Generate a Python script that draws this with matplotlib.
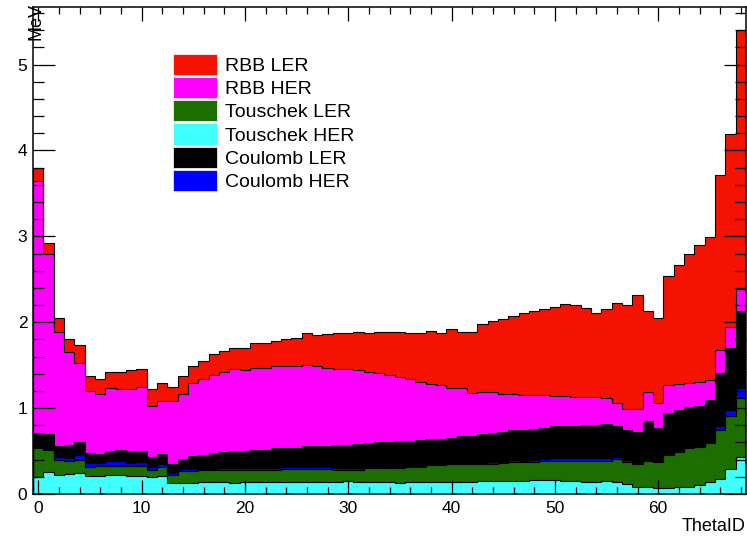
import numpy as np
import matplotlib
matplotlib.use("Agg")
import matplotlib.pyplot as plt
from matplotlib.patches import Patch
from matplotlib.ticker import MultipleLocator

plt.rcParams['font.family'] = ['Liberation Sans', 'DejaVu Sans']

# ThetaID bins 0..68, values in MeV
theta_id = np.arange(69)

touschek_her = [0.20, 0.26, 0.22, 0.23, 0.24, 0.21, 0.21, 0.22, 0.22, 0.21,
                0.21, 0.20, 0.21, 0.125, 0.13, 0.13, 0.14, 0.135, 0.135, 0.13,
                0.135, 0.135, 0.135, 0.135, 0.14, 0.14, 0.14, 0.14, 0.14, 0.143,
                0.15, 0.145, 0.145, 0.14, 0.14, 0.13, 0.135, 0.14, 0.143, 0.143,
                0.143, 0.143, 0.145, 0.15, 0.15, 0.15, 0.15, 0.15, 0.163, 0.163,
                0.163, 0.155, 0.15, 0.143, 0.14, 0.15, 0.14, 0.117, 0.085, 0.08,
                0.066, 0.066, 0.08, 0.085, 0.105, 0.143, 0.18, 0.29, 0.435]
touschek_ler = [0.33, 0.25, 0.18, 0.15, 0.16, 0.11, 0.12, 0.11, 0.11, 0.12,
                0.12, 0.08, 0.10, 0.095, 0.14, 0.14, 0.135, 0.14, 0.145, 0.15,
                0.145, 0.15, 0.15, 0.15, 0.15, 0.15, 0.155, 0.155, 0.155, 0.142,
                0.135, 0.14, 0.155, 0.16, 0.16, 0.17, 0.175, 0.17, 0.192, 0.192,
                0.202, 0.202, 0.205, 0.196, 0.20, 0.21, 0.22, 0.22, 0.207, 0.217,
                0.225, 0.233, 0.238, 0.245, 0.248, 0.238, 0.264, 0.259, 0.261, 0.31,
                0.31, 0.384, 0.41, 0.445, 0.44, 0.447, 0.565, 0.62, 0.68]
coulomb_her = [0.015, 0.015, 0.03, 0.04, 0.05, 0.045, 0.035, 0.05, 0.05, 0.03,
               0.04, 0.03, 0.04, 0.02, 0.02, 0.02, 0.02, 0.02, 0.02, 0.02,
               0.02, 0.015, 0.02, 0.02, 0.02, 0.02, 0.015, 0.015, 0.015, 0.015,
               0.015, 0.015, 0.02, 0.02, 0.02, 0.02, 0.015, 0.017, 0.02, 0.015,
               0.015, 0.015, 0.015, 0.019, 0.02, 0.016, 0.026, 0.02, 0.026, 0.024,
               0.035, 0.035, 0.032, 0.032, 0.03, 0.035, 0.031, 0.024, 0.011, 0.006,
               0.004, 0.016, 0.015, 0.015, 0.015, 0.02, 0.045, 0.07, 0.115]
coulomb_ler = [0.17, 0.175, 0.13, 0.15, 0.15, 0.115, 0.105, 0.12, 0.13, 0.14,
               0.13, 0.12, 0.11, 0.11, 0.12, 0.15, 0.16, 0.18, 0.185, 0.20,
               0.195, 0.21, 0.21, 0.225, 0.22, 0.23, 0.25, 0.25, 0.25, 0.265,
               0.275, 0.285, 0.27, 0.285, 0.29, 0.295, 0.295, 0.303, 0.28, 0.29,
               0.29, 0.31, 0.305, 0.33, 0.345, 0.35, 0.344, 0.356, 0.361, 0.369,
               0.367, 0.372, 0.375, 0.38, 0.39, 0.393, 0.36, 0.346, 0.363, 0.459,
               0.385, 0.474, 0.475, 0.465, 0.465, 0.48, 0.62, 0.72, 0.90]
rbb_her = [2.925, 2.09, 1.33, 1.08, 0.93, 0.72, 0.70, 0.73, 0.71, 0.72,
           0.74, 0.60, 0.62, 0.73, 0.76, 0.85, 0.885, 0.915, 0.94, 0.955,
           0.95, 0.955, 0.955, 0.955, 0.955, 0.95, 0.94, 0.925, 0.91, 0.895,
           0.885, 0.86, 0.835, 0.805, 0.77, 0.745, 0.72, 0.675, 0.645, 0.63,
           0.58, 0.56, 0.51, 0.495, 0.47, 0.444, 0.43, 0.409, 0.393, 0.377,
           0.35, 0.345, 0.34, 0.335, 0.319, 0.304, 0.262, 0.244, 0.27, 0.33,
           0.292, 0.33, 0.30, 0.28, 0.275, 0.24, 0.265, 0.24, 0.255]
rbb_ler = [0.15, 0.13, 0.16, 0.16, 0.20, 0.17, 0.17, 0.19, 0.20, 0.22,
           0.22, 0.19, 0.21, 0.16, 0.205, 0.20, 0.21, 0.24, 0.245, 0.25,
           0.26, 0.29, 0.285, 0.295, 0.325, 0.33, 0.37, 0.365, 0.39, 0.42,
           0.42, 0.445, 0.455, 0.48, 0.51, 0.53, 0.53, 0.565, 0.62, 0.61,
           0.69, 0.655, 0.71, 0.79, 0.835, 0.87, 0.905, 0.95, 0.975, 1.00,
           1.04, 1.07, 1.06, 1.035, 0.983, 1.03, 1.163, 1.21, 1.33, 0.945,
           0.993, 1.27, 1.39, 1.50, 1.60, 1.66, 2.035, 2.25, 3.015]

# stack order bottom -> top
series = [("Touschek HER", touschek_her, "#40ffff"),
          ("Touschek LER", touschek_ler, "#1c6e00"),
          ("Coulomb HER", coulomb_her, "#0000ff"),
          ("Coulomb LER", coulomb_ler, "#000000"),
          ("RBB HER", rbb_her, "#ff00ff"),
          ("RBB LER", rbb_ler, "#f61200")]
legend_order = ["RBB LER", "RBB HER", "Touschek LER", "Touschek HER",
                "Coulomb LER", "Coulomb HER"]

edges = np.append(theta_id - 0.5, theta_id[-1] + 0.5)
cum = np.cumsum([np.array(v) for _, v, _ in series], axis=0)

fig = plt.figure(figsize=(7.47, 5.36), dpi=100)
ax = fig.add_axes([33 / 747, 42 / 536, 713 / 747, 487 / 536])

# draw from top of stack down so lower layers cover the upper ones
for (name, vals, col), top in reversed(list(zip(series, cum))):
    ax.stairs(top, edges, fill=True, color=col, zorder=1)
    ax.stairs(top, edges, color="black", lw=0.8, zorder=1.5)

ax.set_xlim(edges[0], edges[-1])
ax.set_ylim(0, 1.05 * cum[-1].max())

ax.xaxis.set_major_locator(MultipleLocator(10))
ax.xaxis.set_minor_locator(MultipleLocator(2))
ax.yaxis.set_major_locator(MultipleLocator(1))
ax.yaxis.set_minor_locator(MultipleLocator(0.2))
ax.tick_params(which="both", direction="in", top=True, right=True,
               labelsize=12.5, width=0.9, color="black")
ax.tick_params(axis="x", which="major", length=10, pad=5)
ax.tick_params(axis="x", which="minor", length=5)
ax.tick_params(axis="y", which="major", length=16, pad=4)
ax.tick_params(axis="y", which="minor", length=8)
for sp in ax.spines.values():
    sp.set_linewidth(1.1)

fig.text(36 / 747, 1 - 3 / 536, "MeV", rotation=90, ha="center", va="top",
         fontsize=13)
fig.text(746 / 747, 1 / 536, "ThetaID", ha="right", va="bottom", fontsize=13)

colors = {n: c for n, _, c in series}
handles = [Patch(facecolor=colors[n], edgecolor="white", lw=0.5, label=n)
           for n in legend_order]
ax.legend(handles=handles, loc="upper left", bbox_to_anchor=(140 / 713, 1 - 47 / 487),
          frameon=False, fontsize=14, handlelength=2.27, handleheight=1.3,
          handletextpad=0.4, labelspacing=0.1, borderaxespad=0, borderpad=0)

fig.savefig("out.png", dpi=100)
